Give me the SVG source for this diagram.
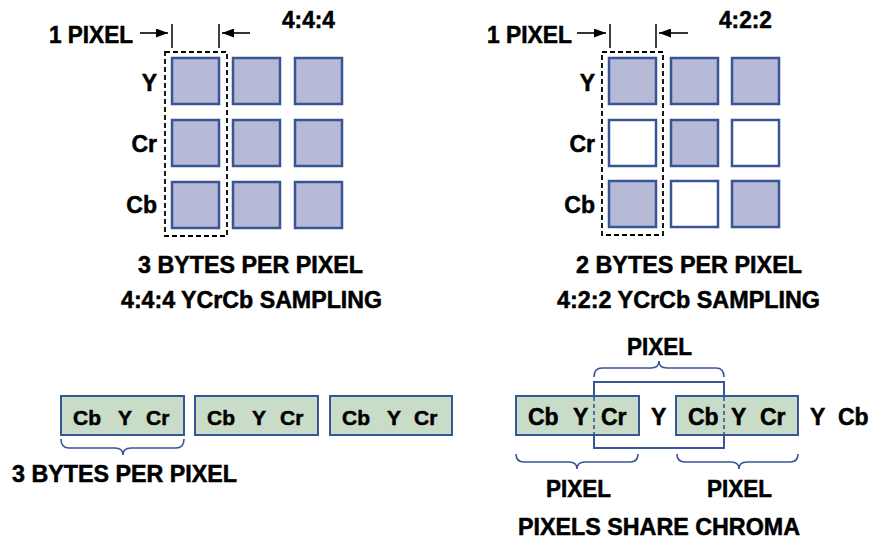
<svg xmlns="http://www.w3.org/2000/svg" width="870" height="540" viewBox="0 0 870 540">
<style>
.t{font-family:"Liberation Sans",Arial,Helvetica,sans-serif;font-weight:bold;fill:#000;stroke:#000;stroke-width:0.5}
.h{font-size:23px}
.c{font-size:21px}
.m{font-size:23px}
.sq{fill:#b6bad6;stroke:#3a5593;stroke-width:2.5}
.sqe{fill:#fff;stroke:#3a5593;stroke-width:2.5}
.gb{fill:#c8dcc8;stroke:#3a5593;stroke-width:2}
.br{fill:none;stroke:#3a5593;stroke-width:1.6}
.dash{fill:none;stroke:#000;stroke-width:1.8;stroke-dasharray:5 3}
.tick{stroke:#000;stroke-width:1.5}
.arr{stroke:#000;stroke-width:1.6;marker-end:url(#ah)}
.bl{fill:none;stroke:#3a5593;stroke-width:2}
.bld{fill:none;stroke:#3a5593;stroke-width:1.6;stroke-dasharray:4 3}
</style>
<defs>
<marker id="ah" markerUnits="userSpaceOnUse" markerWidth="12" markerHeight="9" refX="12" refY="4.5" orient="auto">
<path d="M0,0 L12,4.5 L0,9 z" fill="#000"/>
</marker>
</defs>
<rect width="870" height="540" fill="#fff"/>

<g id="grid444">
<text class="t h" x="282" y="28" textLength="53" lengthAdjust="spacingAndGlyphs">4:4:4</text>
<text class="t h" x="49" y="43" textLength="84" lengthAdjust="spacingAndGlyphs">1 PIXEL</text>
<text class="t h" x="157" y="91" text-anchor="end">Y</text>
<text class="t h" x="157" y="152" text-anchor="end">Cr</text>
<text class="t h" x="157" y="213" text-anchor="end">Cb</text>
<rect class="sq" x="172" y="58" width="47" height="46"/>
<rect class="sq" x="233" y="58" width="47" height="46"/>
<rect class="sq" x="295" y="58" width="47" height="46"/>
<rect class="sq" x="172" y="120" width="47" height="46"/>
<rect class="sq" x="233" y="120" width="47" height="46"/>
<rect class="sq" x="295" y="120" width="47" height="46"/>
<rect class="sq" x="172" y="182" width="47" height="46"/>
<rect class="sq" x="233" y="182" width="47" height="46"/>
<rect class="sq" x="295" y="182" width="47" height="46"/>
<rect class="dash" x="165" y="52" width="62" height="184"/>
<text class="t h" x="138" y="273" textLength="225" lengthAdjust="spacingAndGlyphs">3 BYTES PER PIXEL</text>
<text class="t h" x="121" y="308" textLength="261" lengthAdjust="spacingAndGlyphs">4:4:4 YCrCb SAMPLING</text>
</g>

<g id="grid422">
<text class="t h" x="719" y="28" textLength="53" lengthAdjust="spacingAndGlyphs">4:2:2</text>
<text class="t h" x="487" y="43" textLength="85" lengthAdjust="spacingAndGlyphs">1 PIXEL</text>
<text class="t h" x="595" y="91" text-anchor="end">Y</text>
<text class="t h" x="595" y="152" text-anchor="end">Cr</text>
<text class="t h" x="595" y="213" text-anchor="end">Cb</text>
<rect class="sq" x="609" y="58" width="47" height="46"/>
<rect class="sq" x="671" y="58" width="47" height="46"/>
<rect class="sq" x="732" y="58" width="47" height="46"/>
<rect class="sqe" x="609" y="120" width="47" height="46"/>
<rect class="sq" x="671" y="120" width="47" height="46"/>
<rect class="sqe" x="732" y="120" width="47" height="46"/>
<rect class="sq" x="609" y="181" width="47" height="46"/>
<rect class="sqe" x="671" y="181" width="47" height="46"/>
<rect class="sq" x="732" y="181" width="47" height="46"/>
<rect class="dash" x="602" y="52" width="61" height="183"/>
<text class="t h" x="576" y="273" textLength="226" lengthAdjust="spacingAndGlyphs">2 BYTES PER PIXEL</text>
<text class="t h" x="557" y="308" textLength="263" lengthAdjust="spacingAndGlyphs">4:2:2 YCrCb SAMPLING</text>
</g>

<g id="stream444">
<rect class="gb" x="61" y="396" width="123" height="39"/>
<rect class="gb" x="195" y="396" width="123" height="39"/>
<rect class="gb" x="330" y="396" width="122" height="39"/>
<text class="t c" x="73" y="425">Cb</text><text class="t c" x="118" y="425">Y</text><text class="t c" x="146" y="425">Cr</text>
<text class="t c" x="207" y="425">Cb</text><text class="t c" x="252" y="425">Y</text><text class="t c" x="280" y="425">Cr</text>
<text class="t c" x="342" y="425">Cb</text><text class="t c" x="387" y="425">Y</text><text class="t c" x="414" y="425">Cr</text>
<path class="br" d="M61,439 Q61,448 69,448 L115,448 Q123,448 123,455 Q123,448 131,448 L176,448 Q184,448 184,439"/>
<text class="t h" x="12" y="482" textLength="225" lengthAdjust="spacingAndGlyphs">3 BYTES PER PIXEL</text>
</g>

<g id="stream422">
<text class="t h" x="627" y="355" textLength="65" lengthAdjust="spacingAndGlyphs">PIXEL</text>
<path class="br" d="M594,377 Q594,368 602,368 L651,368 Q659,368 659,361 Q659,368 667,368 L716,368 Q724,368 724,377"/>
<rect class="gb" x="516" y="396" width="123" height="39"/>
<rect class="gb" x="676" y="396" width="122" height="39"/>
<path class="bl" d="M594,396 L594,382 L724,382 L724,396 M594,435 L594,448 L724,448 L724,435"/>
<line class="bld" x1="594" y1="397" x2="594" y2="434"/>
<line class="bld" x1="724" y1="397" x2="724" y2="434"/>
<text class="t m" x="528" y="425">Cb</text><text class="t m" x="573" y="425">Y</text><text class="t m" x="601" y="425">Cr</text>
<text class="t m" x="651" y="425">Y</text>
<text class="t m" x="688" y="425">Cb</text><text class="t m" x="731" y="425">Y</text><text class="t m" x="760" y="425">Cr</text>
<text class="t m" x="810" y="425">Y</text><text class="t m" x="838" y="425">Cb</text>
<path class="br" d="M516,454 Q516,462 524,462 L569,462 Q577,462 577,469 Q577,462 585,462 L630,462 Q638,462 638,454"/>
<path class="br" d="M677,454 Q677,462 685,462 L731,462 Q739,462 739,469 Q739,462 747,462 L790,462 Q798,462 798,454"/>
<text class="t h" x="546" y="497" textLength="65" lengthAdjust="spacingAndGlyphs">PIXEL</text>
<text class="t h" x="707" y="497" textLength="65" lengthAdjust="spacingAndGlyphs">PIXEL</text>
<text class="t h" x="518" y="535" textLength="282" lengthAdjust="spacingAndGlyphs">PIXELS SHARE CHROMA</text>
</g>

<g id="connectors">
<line class="tick" x1="172" y1="24" x2="172" y2="48"/>
<line class="tick" x1="219" y1="24" x2="219" y2="48"/>
<line class="arr" x1="140" y1="33" x2="168" y2="33"/>
<line class="arr" x1="250" y1="33" x2="222" y2="33"/>
<line class="tick" x1="610" y1="24" x2="610" y2="48"/>
<line class="tick" x1="656" y1="24" x2="656" y2="48"/>
<line class="arr" x1="577" y1="33" x2="606" y2="33"/>
<line class="arr" x1="688" y1="33" x2="659" y2="33"/>
</g>
</svg>
